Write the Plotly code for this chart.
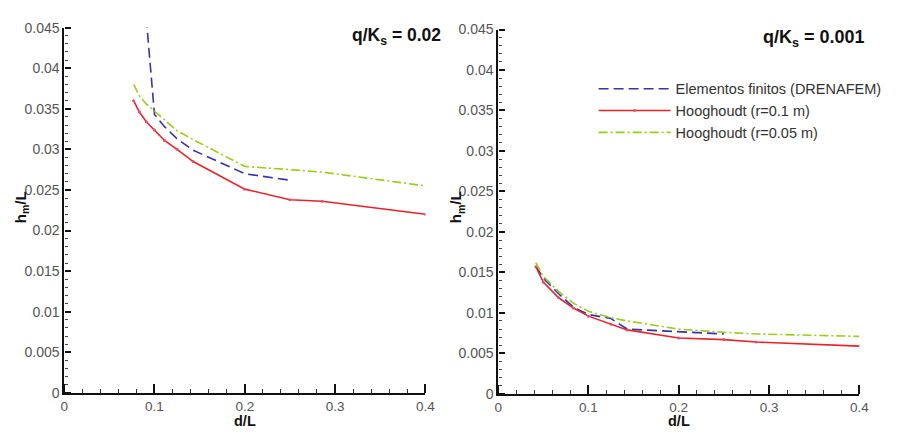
import plotly.graph_objects as go

# ---- data: panel A (q/Ks = 0.02) ----
fem_x_a = [0.0909, 0.1, 0.1111, 0.125, 0.1429, 0.2, 0.25]
fem_y_a = [0.0462, 0.0343, 0.0328, 0.0313, 0.0299, 0.0270, 0.0262]
h01_x_a = [0.0769, 0.0833, 0.0909, 0.1, 0.1111, 0.125, 0.1429, 0.2, 0.25, 0.2857, 0.4]
h01_y_a = [0.0360, 0.0346, 0.0334, 0.0324, 0.0311, 0.0300, 0.0285, 0.0251, 0.0238, 0.0236, 0.0220]
h005_x_a = h01_x_a
h005_y_a = [0.0380, 0.0366, 0.0356, 0.0347, 0.0336, 0.0323, 0.0312, 0.0279, 0.0275, 0.0272, 0.0255]

# ---- data: panel B (q/Ks = 0.001) ----
fem_x_b = [0.0417, 0.05, 0.0667, 0.0833, 0.1, 0.125, 0.1429, 0.2, 0.25]
fem_y_b = [0.0158, 0.0143, 0.0124, 0.0107, 0.0098, 0.0093, 0.0080, 0.0077, 0.0074]
h01_x_b = [0.0417, 0.05, 0.0667, 0.0833, 0.1, 0.125, 0.1429, 0.2, 0.25, 0.2857, 0.4]
h01_y_b = [0.0157, 0.0138, 0.0119, 0.0106, 0.0096, 0.0086, 0.0079, 0.0069, 0.0067, 0.0064, 0.0059]
h005_x_b = h01_x_b
h005_y_b = [0.0162, 0.0145, 0.0127, 0.0112, 0.0102, 0.0094, 0.0090, 0.0080, 0.0076, 0.0074, 0.0071]

names = ["Elementos finitos (DRENAFEM)", "Hooghoudt (r=0.1 m)", "Hooghoudt (r=0.05 m)"]
titles = ["q/K<sub>s</sub> = 0.02", "q/K<sub>s</sub> = 0.001"]
x_ticks = [0, 0.1, 0.2, 0.3, 0.4]
x_ticklabels = ["0", "0.1", "0.2", "0.3", "0.4"]
x_minor = [0.02 * i for i in range(21)]
y_ticks = [0, 0.005, 0.01, 0.015, 0.02, 0.025, 0.03, 0.035, 0.04, 0.045]
y_ticklabels = ["0", "0.005", "0.01", "0.015", "0.02", "0.025", "0.03", "0.035", "0.04", "0.045"]

BLUE = "#3535a8"
RED = "#e8232b"
GREEN = "#9acd1a"

fig = go.Figure()

panels = [
    ("x", "y", fem_x_a, fem_y_a, h01_x_a, h01_y_a, h005_x_a, h005_y_a, False),
    ("x2", "y2", fem_x_b, fem_y_b, h01_x_b, h01_y_b, h005_x_b, h005_y_b, True),
]
for xa, ya, fx, fy, rx, ry, gx, gy, show in panels:
    fig.add_trace(go.Scatter(x=fx, y=fy, xaxis=xa, yaxis=ya, mode="lines", name=names[0],
                             line=dict(color=BLUE, width=1.6, dash="10px,5px"), showlegend=show))
    fig.add_trace(go.Scatter(x=rx, y=ry, xaxis=xa, yaxis=ya, mode="lines+markers", name=names[1],
                             line=dict(color=RED, width=1.6), marker=dict(size=3, color="#e05070"),
                             showlegend=show))
    fig.add_trace(go.Scatter(x=gx, y=gy, xaxis=xa, yaxis=ya, mode="lines", name=names[2],
                             line=dict(color=GREEN, width=1.6, dash="9px,3px,2px,3px"), showlegend=show))

# empty traces to bring the tick-only overlay axes into existence
for xa, ya in (("x3", "y3"), ("x4", "y4")):
    fig.add_trace(go.Scatter(x=[None], y=[None], xaxis=xa, yaxis=ya, mode="lines",
                             showlegend=False, hoverinfo="skip"))

W, H = 899, 433
M = 10
IW, IH = W - 2 * M, H - 2 * M
def px_x(p): return (p - M) / IW
def px_y(p): return 1 - (p - M) / IH

xtickfont = dict(family="Liberation Sans, Arial", size=13.5, color="#555555")
ytickfont = dict(family="Liberation Sans, Arial", size=14, color="#555555")
xax = dict(range=[0, 0.4], tickvals=x_ticks, ticktext=x_ticklabels, ticks="",
           showline=True, linecolor="#111", linewidth=2,
           showgrid=False, zeroline=False, tickfont=xtickfont)
yax = dict(range=[0, 0.045], tickvals=y_ticks, ticktext=y_ticklabels, ticks="",
           showline=True, linecolor="#111", linewidth=1.5,
           showgrid=False, zeroline=False, tickfont=ytickfont)
# overlay axes: outside ticks on a top/right side axis point into the plot
xtick_ax = dict(range=[0, 0.4], tickvals=x_ticks, ticks="outside", ticklen=9, tickwidth=2,
                tickcolor="#111", showticklabels=False, showline=False, showgrid=False, zeroline=False,
                side="top", anchor="free",
                minor=dict(tickvals=x_minor, ticks="outside", ticklen=4, tickwidth=1, tickcolor="#333"))
ytick_ax = dict(range=[0, 0.045], tickvals=y_ticks, ticks="outside", ticklen=6, tickwidth=1.5,
                tickcolor="#111", showticklabels=False, showline=False, showgrid=False, zeroline=False,
                side="right", anchor="free",
                minor=dict(dtick=0.001, ticks="outside", ticklen=3, tickwidth=1, tickcolor="#444"))

fig.update_layout(
    width=W, height=H,
    margin=dict(l=M, r=M, t=M, b=M),
    paper_bgcolor="white", plot_bgcolor="white",
    xaxis=dict(domain=[px_x(61), px_x(428)], anchor="y", **xax),
    yaxis=dict(domain=[px_y(400), px_y(20)], anchor="x", **yax),
    xaxis2=dict(domain=[px_x(502), px_x(869)], anchor="y2", **xax),
    yaxis2=dict(domain=[px_y(401), px_y(22)], anchor="x2", **yax),
    xaxis3=dict(overlaying="x", position=px_y(400), **xtick_ax),
    yaxis3=dict(overlaying="y", position=px_x(61), **ytick_ax),
    xaxis4=dict(overlaying="x2", position=px_y(401), **xtick_ax),
    yaxis4=dict(overlaying="y2", position=px_x(502), **ytick_ax),
    legend=dict(x=px_x(599), y=px_y(67), xanchor="left", yanchor="top", itemwidth=72,
                font=dict(family="Liberation Sans, Arial", size=14.5, color="#333"),
                bgcolor="rgba(0,0,0,0)", tracegroupgap=0),
    showlegend=True,
)

lab_font = dict(family="Liberation Sans, Arial", size=14.5, color="#111")
fig.add_annotation(text="<b>" + titles[0] + "</b>", xref="paper", yref="paper",
                   x=px_x(446), y=px_y(29), xanchor="right", yanchor="middle", showarrow=False,
                   font=dict(family="Liberation Sans, Arial", size=17.5, color="#111"))
fig.add_annotation(text="<b>" + titles[1] + "</b>", xref="paper", yref="paper",
                   x=px_x(877), y=px_y(31), xanchor="right", yanchor="middle", showarrow=False,
                   font=dict(family="Liberation Sans, Arial", size=18, color="#111"))
for cx in (245, 686):
    fig.add_annotation(text="<b>d/L</b>", xref="paper", yref="paper", x=px_x(cx), y=px_y(429.5),
                       xanchor="center", yanchor="middle", showarrow=False, font=lab_font)
for cx in (17, 460):
    fig.add_annotation(text="<b>h<sub>m</sub>/L</b>", xref="paper", yref="paper", x=px_x(cx), y=px_y(207),
                       xanchor="center", yanchor="middle", showarrow=False, textangle=-90,
                       font=dict(family="Liberation Sans, Arial", size=15, color="#111"))

fig.write_html("out.html")
